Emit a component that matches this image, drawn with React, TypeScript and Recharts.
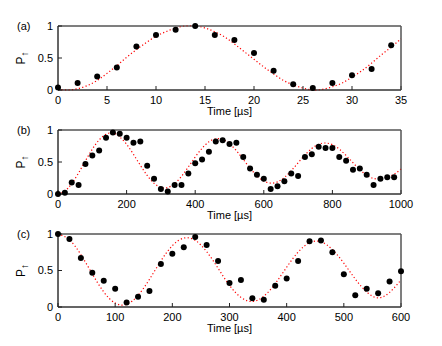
import React from "react";
import {
  ComposedChart, Line, Scatter, XAxis, YAxis, ReferenceArea,
} from "recharts";

// panel (a): Rabi oscillation, time in µs
const aTime = [0, 2, 4, 6, 8, 10, 12, 14, 16, 18, 20, 22, 24, 26, 28, 30, 32, 34];
const aProb = [0.04, 0.11, 0.21, 0.35, 0.68, 0.86, 0.94, 1.0, 0.86, 0.78, 0.58, 0.3, 0.09, 0.03, 0.11, 0.23, 0.33, 0.7];
const aFitTime = [0, 1, 2, 3, 4, 5, 6, 7, 8, 9, 10, 11, 12, 13, 14, 15, 16, 17, 18, 19, 20, 21, 22, 23, 24, 25, 26, 27, 28, 29, 30, 31, 32, 33, 34, 35];
const aFitProb = [0.01, 0, 0.02, 0.07, 0.15, 0.26, 0.38, 0.51, 0.63, 0.74, 0.84, 0.91, 0.97, 1.0, 1.0, 0.97, 0.91, 0.83, 0.72, 0.6, 0.48, 0.36, 0.25, 0.15, 0.08, 0.03, 0, 0.01, 0.05, 0.11, 0.2, 0.3, 0.42, 0.55, 0.67, 0.8];

// panel (b)
const bTime = [0, 20, 40, 60, 80, 100, 120, 140, 160, 180, 200, 220, 240, 260, 280, 300, 320, 340, 360, 380, 400, 420, 440, 460, 480, 500, 520, 540, 560, 580, 600, 620, 640, 660, 680, 700, 720, 740, 760, 780, 800, 820, 840, 860, 880, 900, 920, 940, 960, 980];
const bProb = [0, 0.02, 0.18, 0.14, 0.47, 0.6, 0.68, 0.88, 0.96, 0.94, 0.88, 0.8, 0.82, 0.44, 0.24, 0.08, 0.04, 0.14, 0.14, 0.32, 0.48, 0.54, 0.66, 0.82, 0.84, 0.78, 0.8, 0.58, 0.4, 0.3, 0.24, 0.08, 0.12, 0.2, 0.32, 0.28, 0.58, 0.62, 0.74, 0.72, 0.72, 0.58, 0.52, 0.38, 0.4, 0.3, 0.14, 0.24, 0.26, 0.26];
const bFitTime = [0, 20, 40, 60, 80, 100, 120, 140, 160, 180, 200, 220, 240, 260, 280, 300, 320, 340, 360, 380, 400, 420, 440, 460, 480, 500, 520, 540, 560, 580, 600, 620, 640, 660, 680, 700, 720, 740, 760, 780, 800, 820, 840, 860, 880, 900, 920, 940, 960, 980, 1000];
const bFitProb = [0, 0.046, 0.163, 0.329, 0.519, 0.7, 0.846, 0.932, 0.955, 0.893, 0.777, 0.62, 0.449, 0.29, 0.168, 0.102, 0.101, 0.163, 0.276, 0.422, 0.577, 0.715, 0.815, 0.863, 0.852, 0.787, 0.677, 0.542, 0.404, 0.285, 0.204, 0.17, 0.19, 0.259, 0.364, 0.487, 0.61, 0.711, 0.777, 0.797, 0.77, 0.7, 0.601, 0.489, 0.381, 0.294, 0.243, 0.234, 0.26, 0.31, 0.39];

// panel (c)
const cTime = [0, 20, 40, 60, 80, 100, 120, 140, 160, 180, 200, 220, 240, 260, 280, 300, 320, 340, 360, 380, 400, 420, 440, 460, 480, 500, 520, 540, 560, 580, 600];
const cProb = [1.0, 0.93, 0.67, 0.47, 0.36, 0.25, 0.06, 0.14, 0.22, 0.59, 0.73, 0.82, 0.96, 0.85, 0.63, 0.33, 0.37, 0.12, 0.1, 0.29, 0.39, 0.63, 0.9, 0.91, 0.75, 0.45, 0.16, 0.25, 0.19, 0.35, 0.49];
const cFitTime = cTime;
const cFitProb = [1.0, 0.92, 0.717, 0.453, 0.207, 0.054, 0.037, 0.159, 0.379, 0.632, 0.84, 0.944, 0.913, 0.759, 0.531, 0.296, 0.132, 0.075, 0.148, 0.32, 0.545, 0.752, 0.881, 0.893, 0.787, 0.6, 0.383, 0.206, 0.125, 0.2, 0.37];

const aTicks = [0, 5, 10, 15, 20, 25, 30, 35];
const bTicks = [0, 200, 400, 600, 800, 1000];
const cTicks = [0, 100, 200, 300, 400, 500, 600];
const yTicks = [0, 0.5, 1];

const FONT = "'Liberation Sans', Arial, sans-serif";
const zip = (xs: number[], ys: number[]) => xs.map((t, i) => ({ t, p: ys[i] }));

const Dot = (props: { cx?: number; cy?: number }) => (
  <circle cx={props.cx} cy={props.cy} r={3} fill="#000" />
);

const PLabel = (props: { viewBox?: { y: number; height: number } }) => {
  const vb = props.viewBox || { y: 0, height: 0 };
  const cx = 25;
  const cy = vb.y + vb.height / 2;
  return (
    <text transform={`rotate(-90 ${cx} ${cy})`} x={cx} y={cy} textAnchor="middle" fontSize={12} fill="#000" fontFamily={FONT}>
      P<tspan fontSize={10} dy={3}>↑</tspan>
    </text>
  );
};

interface PanelProps {
  tag: string;
  top: number;
  height: number;
  xMax: number;
  ticks: number[];
  pts: { t: number; p: number }[];
  fit: { t: number; p: number }[];
}

function Panel({ tag, top, height, xMax, ticks, pts, fit }: PanelProps) {
  const tickStyle = { fill: "#000", fontSize: 11, fontFamily: FONT };
  return (
    <div style={{ position: "absolute", left: 0, top, width: 442, height }}>
      <div style={{ position: "absolute", left: 17, top: 20, fontSize: 11, fontFamily: FONT, color: "#000" }}>{tag}</div>
      <ComposedChart width={442} height={height} margin={{ top: 26, right: 41, bottom: 10, left: 28 }}>
        <ReferenceArea x1={0} x2={xMax} y1={0} y2={1} fill="none" stroke="#555" strokeWidth={1} ifOverflow="visible" />
        <XAxis
          dataKey="t" type="number" domain={[0, xMax]} ticks={ticks} interval={0}
          tick={tickStyle} tickSize={-4} tickMargin={10} height={20}
          axisLine={{ stroke: "#222" }} tickLine={{ stroke: "#222" }}
          label={{ value: "Time [µs]", position: "bottom", offset: -3, fontSize: 11, fill: "#000", fontFamily: FONT }}
        />
        <XAxis
          xAxisId="top" orientation="top" mirror type="number" domain={[0, xMax]} ticks={ticks} interval={0}
          tickFormatter={() => ""} tickSize={4}
          axisLine={{ stroke: "#555" }} tickLine={{ stroke: "#555" }}
        />
        <YAxis
          type="number" domain={[0, 1]} ticks={yTicks} interval={0} width={30}
          tick={tickStyle} tickSize={-4} tickMargin={9}
          axisLine={{ stroke: "#222" }} tickLine={{ stroke: "#222" }}
          label={<PLabel />}
        />
        <YAxis
          yAxisId="right" orientation="right" mirror type="number" domain={[0, 1]} ticks={yTicks} interval={0}
          tickFormatter={() => ""} tickSize={4}
          axisLine={{ stroke: "#555" }} tickLine={{ stroke: "#555" }}
        />
        <Line
          data={fit} dataKey="p" type="natural" stroke="#ff0000" strokeWidth={1.2}
          strokeDasharray="1.2 2.3" dot={false} activeDot={false} isAnimationActive={false}
        />
        <Scatter data={pts} dataKey="p" shape={<Dot />} isAnimationActive={false} />
      </ComposedChart>
    </div>
  );
}

export default function App() {
  return (
    <div style={{ position: "absolute", left: 0, top: 0, width: 442, height: 346, background: "#fff" }}>
      <Panel tag="(a)" top={0} height={120} xMax={35} ticks={aTicks} pts={zip(aTime, aProb)} fit={zip(aFitTime, aFitProb)} />
      <Panel tag="(b)" top={104} height={120} xMax={1000} ticks={bTicks} pts={zip(bTime, bProb)} fit={zip(bFitTime, bFitProb)} />
      <Panel tag="(c)" top={208} height={129} xMax={600} ticks={cTicks} pts={zip(cTime, cProb)} fit={zip(cFitTime, cFitProb)} />
    </div>
  );
}
